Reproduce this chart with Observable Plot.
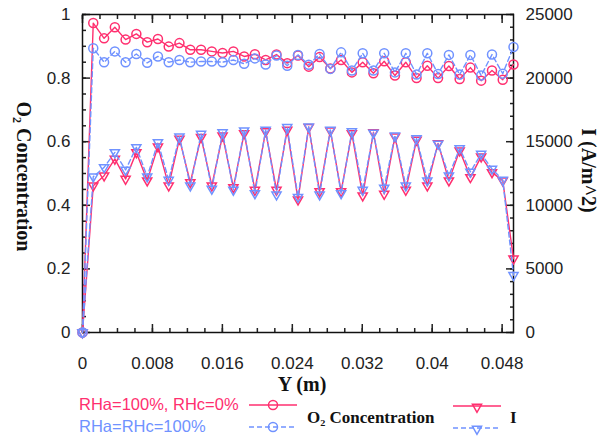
<!DOCTYPE html>
<html>
<head>
<meta charset="utf-8">
<script src="https://cdn.jsdelivr.net/npm/d3@7"></script>
<script src="https://cdn.jsdelivr.net/npm/@observablehq/plot@0.6"></script>
<style>
  body { margin: 0; background: #fff; }
  #chart { position: relative; width: 600px; height: 436px; overflow: hidden; }
  #chart > svg { position: absolute; left: 0; top: 0; }
</style>
</head>
<body>
<div id="chart"></div>
<script>
// Position along the channel, Y (m)
const yPos = [0, 0.00123, 0.00247, 0.00370, 0.00493, 0.00616, 0.00740, 0.00863, 0.00986, 0.01109,
  0.01233, 0.01356, 0.01479, 0.01602, 0.01726, 0.01849, 0.01972, 0.02095, 0.02219, 0.02342,
  0.02465, 0.02588, 0.02712, 0.02835, 0.02958, 0.03081, 0.03205, 0.03328, 0.03451, 0.03574,
  0.03698, 0.03821, 0.03944, 0.04067, 0.04191, 0.04314, 0.04437, 0.04560, 0.04684, 0.04807, 0.0493];

// O2 concentration, RHa=100%, RHc=0%
const o2Dry = [0, 0.973, 0.925, 0.960, 0.921, 0.939, 0.913, 0.923, 0.899, 0.910,
  0.889, 0.889, 0.884, 0.879, 0.884, 0.868, 0.875, 0.857, 0.874, 0.847,
  0.871, 0.836, 0.866, 0.830, 0.857, 0.818, 0.850, 0.815, 0.853, 0.808,
  0.850, 0.800, 0.839, 0.800, 0.838, 0.797, 0.833, 0.792, 0.824, 0.795, 0.843];

// O2 concentration, RHa=RHc=100%
const o2Wet = [0, 0.894, 0.850, 0.884, 0.850, 0.876, 0.848, 0.868, 0.850, 0.857,
  0.850, 0.852, 0.852, 0.850, 0.857, 0.845, 0.862, 0.843, 0.871, 0.839,
  0.873, 0.842, 0.876, 0.829, 0.881, 0.824, 0.878, 0.824, 0.878, 0.818,
  0.878, 0.811, 0.878, 0.813, 0.873, 0.811, 0.873, 0.808, 0.874, 0.814, 0.898];

// Current density I (A/m^2), RHa=100%, RHc=0%
const iDry = [0, 11545, 12330, 13645, 12070, 14160, 11940, 14610, 11545, 15220,
  11800, 15350, 11545, 15480, 11410, 15660, 11205, 15820, 11205, 15925,
  10440, 16135, 11095, 15870, 11095, 15660, 10760, 15740, 10890, 15400,
  11205, 15140, 11545, 14870, 11940, 14300, 12200, 13825, 12590, 11940, 5800];

// Current density I (A/m^2), RHa=RHc=100%
const iWet = [0, 12250, 12980, 14160, 12780, 14560, 12250, 14950, 11990, 15400,
  11545, 15610, 11285, 15740, 11205, 15870, 10940, 15925, 10835, 16135,
  10650, 16190, 10835, 15925, 10940, 15815, 11205, 15690, 11365, 15480,
  11545, 15265, 11940, 14825, 12330, 14480, 12630, 14040, 12860, 11990, 4500];

// Axis ticks
const xTicks = [0, 0.008, 0.016, 0.024, 0.032, 0.04, 0.048];
const o2Ticks = [0, 0.2, 0.4, 0.6, 0.8, 1];
const iTicks = [0, 5000, 10000, 15000, 20000, 25000];

const iMax = 25000;
const xMax = 0.0493;
const red = "#ff2f6f";
const blue = "#7092ff";
const sans = '"Liberation Sans", Arial, sans-serif';
const serif = '"Liberation Serif", "Times New Roman", serif';

const rows = yPos.map((x, i) => ({
  x, o2Dry: o2Dry[i], o2Wet: o2Wet[i], iDry: iDry[i] / iMax, iWet: iWet[i] / iMax
}));

// Minor tick positions
const xMinor = d3.range(0, 25).map(k => k * 0.002).filter(v => v <= xMax);
const o2Minor = d3.range(0, 21).map(k => k * 0.05);
const iMinor = d3.range(0, 26).map(k => k * 1000 / iMax);
const blank = () => "";

const chart = Plot.plot({
  width: 600,
  height: 436,
  marginLeft: 82,
  marginRight: 87,
  marginTop: 14,
  marginBottom: 104,
  x: { domain: [0, xMax] },
  y: { domain: [0, 1] },
  style: { fontFamily: sans, fontSize: "17px", color: "#222", background: "transparent" },
  marks: [
    // tick labels
    Plot.axisX(xTicks, { anchor: "bottom", tickSize: 0, tickPadding: 24, tickFormat: d3.format("~g"), label: null }),
    Plot.axisY(o2Ticks, { anchor: "left", tickSize: 0, tickPadding: 12, tickFormat: d3.format("~g"), label: null }),
    Plot.axisY(iTicks.map(v => v / iMax), { anchor: "right", tickSize: 0, tickPadding: 12, tickFormat: d => String(Math.round(d * iMax)), label: null }),
    // inward tick marks on all four sides
    Plot.axisX(xTicks, { anchor: "bottom", tickSize: -8, strokeWidth: 1.5, tickFormat: blank, label: null }),
    Plot.axisX(xMinor, { anchor: "bottom", tickSize: -4, strokeWidth: 1.5, tickFormat: blank, label: null }),
    Plot.axisX(xTicks, { anchor: "top", tickSize: -8, strokeWidth: 1.5, tickFormat: blank, label: null }),
    Plot.axisX(xMinor, { anchor: "top", tickSize: -4, strokeWidth: 1.5, tickFormat: blank, label: null }),
    Plot.axisY(o2Ticks, { anchor: "left", tickSize: -8, strokeWidth: 1.5, tickFormat: blank, label: null }),
    Plot.axisY(o2Minor, { anchor: "left", tickSize: -4, strokeWidth: 1.5, tickFormat: blank, label: null }),
    Plot.axisY(iTicks.map(v => v / iMax), { anchor: "right", tickSize: -8, strokeWidth: 1.5, tickFormat: blank, label: null }),
    Plot.axisY(iMinor, { anchor: "right", tickSize: -4, strokeWidth: 1.5, tickFormat: blank, label: null }),
    Plot.frame({ stroke: "#111", strokeWidth: 1.5 }),

    // axis titles
    Plot.text(["O\u2082 Concentration"], { frameAnchor: "left", text: d => d, rotate: 90, dx: -59, dy: 3,
      textAnchor: "middle", lineAnchor: "middle", fontFamily: serif, fontWeight: "bold", fontSize: 20, fill: "#111" }),
    Plot.text(["I (A/m^2)"], { frameAnchor: "right", text: d => d, rotate: 90, dx: 75, dy: -3,
      textAnchor: "middle", lineAnchor: "middle", fontFamily: serif, fontWeight: "bold", fontSize: 20, fill: "#111" }),
    Plot.text(["Y (m)"], { frameAnchor: "bottom", text: d => d, dx: 4, dy: 52,
      textAnchor: "middle", lineAnchor: "middle", fontFamily: serif, fontWeight: "bold", fontSize: 20, fill: "#111" }),

    // RHa=100%, RHc=0% (solid)
    Plot.line(rows, { x: "x", y: "o2Dry", stroke: red, strokeWidth: 1.4 }),
    Plot.dot(rows, { x: "x", y: "o2Dry", r: 4.5, stroke: red, strokeWidth: 1.5, fill: "none" }),
    Plot.line(rows, { x: "x", y: "iDry", stroke: red, strokeWidth: 1.4 }),
    Plot.dot(rows, { x: "x", y: "iDry", symbol: "triangle", rotate: 180, r: 3.4, stroke: red, strokeWidth: 1.5, fill: "none" }),

    // RHa=RHc=100% (dashed)
    Plot.line(rows, { x: "x", y: "o2Wet", stroke: blue, strokeWidth: 1.4, strokeDasharray: "5,3" }),
    Plot.dot(rows, { x: "x", y: "o2Wet", r: 4.5, stroke: blue, strokeWidth: 1.5, fill: "none" }),
    Plot.line(rows, { x: "x", y: "iWet", stroke: blue, strokeWidth: 1.4, strokeDasharray: "5,3" }),
    Plot.dot(rows, { x: "x", y: "iWet", symbol: "triangle", rotate: 180, r: 3.4, stroke: blue, strokeWidth: 1.5, fill: "none" })
  ]
});

const host = document.getElementById("chart");
host.appendChild(chart);

// Legend in the space under the axis title
const legend = d3.select(host).append("svg")
  .attr("width", 600).attr("height", 436)
  .style("pointer-events", "none");

const entries = [
  { label: "RHa=100%, RHc=0%", color: red, dash: null, y: 405 },
  { label: "RHa=RHc=100%", color: blue, dash: "5,3", y: 427 }
];
const tri = d3.symbol(d3.symbolTriangle, 36)();

for (const e of entries) {
  legend.append("text")
    .attr("x", 79).attr("y", e.y).attr("dy", "0.33em")
    .attr("font-family", sans).attr("font-size", 16.5).attr("fill", e.color)
    .text(e.label);
  // O2 sample
  legend.append("line")
    .attr("x1", 249).attr("x2", 297).attr("y1", e.y).attr("y2", e.y)
    .attr("stroke", e.color).attr("stroke-width", 1.4).attr("stroke-dasharray", e.dash);
  legend.append("circle")
    .attr("cx", 273).attr("cy", e.y).attr("r", 4.5)
    .attr("fill", "none").attr("stroke", e.color).attr("stroke-width", 1.5);
  // I sample
  legend.append("line")
    .attr("x1", 453).attr("x2", 501).attr("y1", e.y + 1).attr("y2", e.y + 1)
    .attr("stroke", e.color).attr("stroke-width", 1.4).attr("stroke-dasharray", e.dash);
  legend.append("path")
    .attr("d", tri)
    .attr("transform", `translate(477,${e.y + 2}) rotate(180)`)
    .attr("fill", "none").attr("stroke", e.color).attr("stroke-width", 1.5);
}

legend.append("text")
  .attr("x", 307).attr("y", 417).attr("dy", "0.36em")
  .attr("font-family", serif).attr("font-weight", "bold").attr("font-size", 17).attr("fill", "#111")
  .text("O\u2082 Concentration");

legend.append("text")
  .attr("x", 510).attr("y", 417).attr("dy", "0.36em")
  .attr("font-family", serif).attr("font-weight", "bold").attr("font-size", 17).attr("fill", "#111")
  .text("I");
</script>
</body>
</html>
